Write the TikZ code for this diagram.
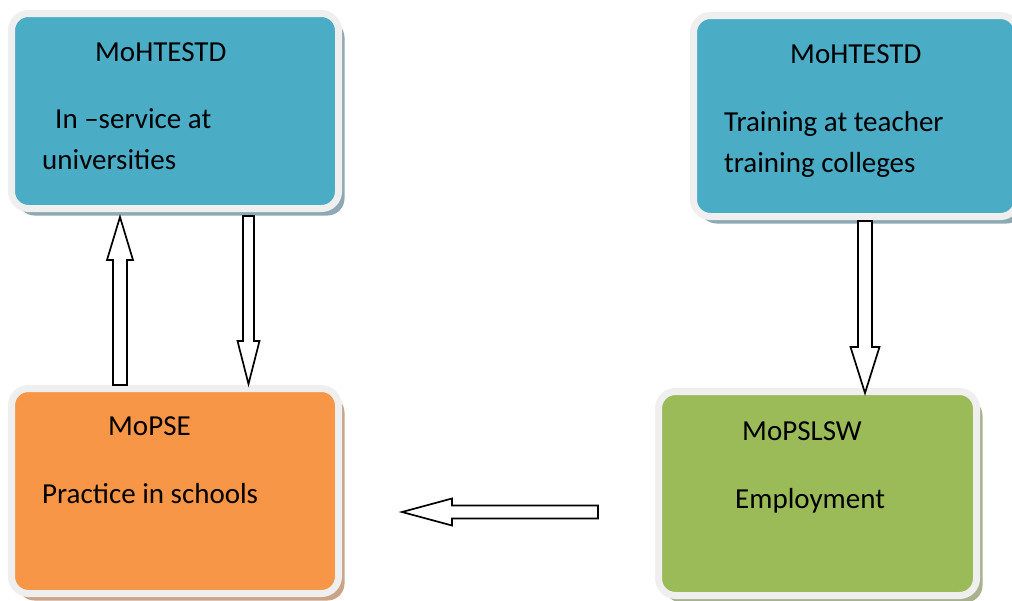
\documentclass[tikz,border=0pt]{standalone}
\usepackage{fontspec}
\setmainfont{Carlito}
\usetikzlibrary{calc,shadows}
\definecolor{ministryblue}{HTML}{4BACC6}
\definecolor{ministryorange}{HTML}{F79646}
\definecolor{ministrygreen}{HTML}{9BBB59}
\definecolor{shadeblue}{HTML}{8EA9B4}
\definecolor{shadeorange}{HTML}{C9A487}
\definecolor{shadegreen}{HTML}{A8B28F}
\definecolor{rimgray}{HTML}{EFEFEF}
% vertical hollow block arrow: tail, tip, shaft half-width, head half-width, head length (signed)
\newcommand\vblock[5]{\draw[hollow] ($(#1)+(-#3,0)$) -- ($(#2)+(-#3,#5)$) -- ($(#2)+(-#4,#5)$) -- (#2)
  -- ($(#2)+(#4,#5)$) -- ($(#2)+(#3,#5)$) -- ($(#1)+(#3,0)$) -- cycle;}
% horizontal hollow block arrow: tail, tip, shaft half-width, head half-width, head length (signed)
\newcommand\hblock[5]{\draw[hollow] ($(#1)+(0,-#3)$) -- ($(#2)+(#5,-#3)$) -- ($(#2)+(#5,-#4)$) -- (#2)
  -- ($(#2)+(#5,#4)$) -- ($(#2)+(#5,#3)$) -- ($(#1)+(0,#3)$) -- cycle;}
\begin{document}
\begin{tikzpicture}[x=1pt,y=-1pt,
  panel/.style={rounded corners=17pt, line width=7pt, draw=rimgray, inner sep=0pt,
    drop shadow={shadow xshift=6pt, shadow yshift=-7pt, fill=#1, opacity=1}},
  linetext/.style={anchor=base west, inner sep=0pt, font=\fontsize{29}{35}\selectfont},
  hollow/.style={draw=black, line width=1.7pt, fill=white, line join=miter}]
\useasboundingbox (0,0) rectangle (1012,600);

% boxes
\node[panel=shadeblue, fill=ministryblue, minimum width=327pt, minimum height=195pt] (uni) at (175,111) {};
\node[panel=shadeblue, fill=ministryblue, minimum width=324pt, minimum height=201pt] (ttc) at (855.5,116) {};
\node[panel=shadeorange, fill=ministryorange, minimum width=327pt, minimum height=205pt] (mopse) at (175,491) {};
\node[panel=shadegreen, fill=ministrygreen, minimum width=318pt, minimum height=204pt] (employ) at (817.5,493.5) {};

% texts
\node[linetext] (uniTitle) at (95,61) {MoHTESTD};
\node[linetext] (uniLineA) at (55,128) {In –service at};
\node[linetext] (uniLineB) at (42,169) {universities};

\node[linetext] (ttcTitle) at (790,63) {MoHTESTD};
\node[linetext] (ttcLineA) at (724,131) {Training at teacher};
\node[linetext] (ttcLineB) at (724,172) {training colleges};

\node[linetext] (mopseTitle) at (108,435) {MoPSE};
\node[linetext] (mopseLine) at (42,503) {Practice in schools};

\node[linetext] (employTitle) at (742,440) {MoPSLSW};
\node[linetext] (employLine) at (735,508) {Employment};

% arrow end points
\coordinate (upTail) at ($(120,0 |- mopse.north)$);
\coordinate (upTip) at ($(120,0 |- uni.south)+(0,5)$);
\coordinate (downTail) at ($(248.5,0 |- uni.south)+(0,4)$);
\coordinate (downTip) at ($(248.5,0 |- mopse.north)+(0,-1)$);
\coordinate (ttcTail) at ($(865,0 |- ttc.south)+(0,1)$);
\coordinate (ttcTip) at ($(865,0 |- employ.north)+(0,5)$);
\coordinate (empTail) at ($(employ.west)+(-57,18.5)$);
\coordinate (schTip) at ($(mopse.east)+(60,21)$);

% arrows
\vblock{upTail}{upTip}{7}{13}{43}
\vblock{downTail}{downTip}{5.5}{11}{-43}
\vblock{ttcTail}{ttcTip}{7}{14.5}{-46}
\hblock{empTail}{schTip}{6.5}{13.5}{50}
\end{tikzpicture}
\end{document}
